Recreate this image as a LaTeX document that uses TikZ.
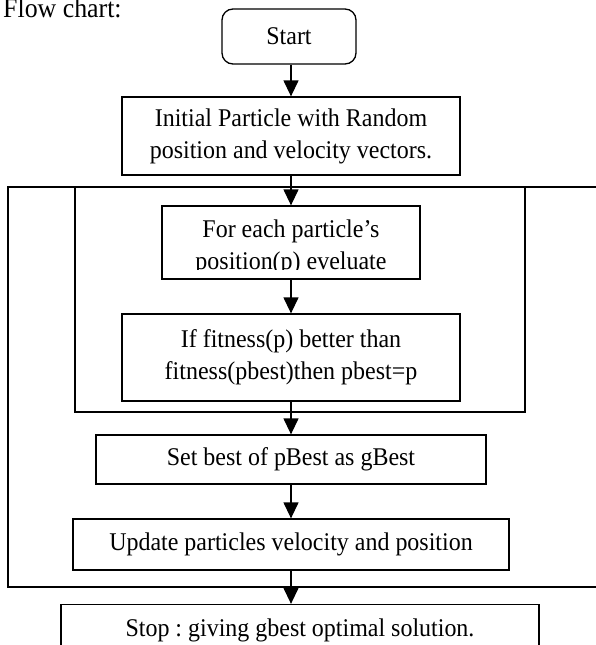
\documentclass[tikz,border=0pt]{standalone}
\usepackage{fontspec}
\setmainfont{Liberation Serif}[FakeStretch=0.94]
\usetikzlibrary{arrows.meta}
\frenchspacing

\newcommand{\flowfont}{\fontsize{25.5}{32}\selectfont}
\tikzset{
  flowbox/.style={draw, line width=1.3pt, inner sep=0pt, align=center, font=\flowfont},
  flowarrow/.style={line width=1.3pt, -{Triangle[length=16pt,width=15pt]}},
  loopline/.style={line width=1.3pt},
}

\begin{document}
\begin{tikzpicture}[x=1pt, y=1pt]
    \useasboundingbox (0,0) rectangle (595,-645);

    % Title
    \node[anchor=base west, inner sep=0pt, font=\fontsize{27.5}{32}\selectfont] (title) at (3,-17) {Flow chart:};

    % Loops
    \draw[loopline] (605,-187) -- (8,-187) -- (8,-587) -- (605,-587);
    \draw[loopline] (75,-187) rectangle (525,-412);

    % Boxes
    \node[flowbox, rounded corners=11pt, minimum width=134pt, minimum height=55pt] (start) at (289,-36.5) {Start};
    \node[flowbox, minimum width=338pt, minimum height=78pt] (init) at (291,-136) {Initial Particle with Random\\position and velocity vectors.};
    \node[flowbox, minimum width=258pt, minimum height=73pt] (each) at (291,-242.5) {};
    \begin{scope}
        \clip (each.north west) rectangle ([yshift=10pt]each.south east);
        \node[align=center, inner sep=0pt, font=\flowfont] (eachtext) at (291,-247.5) {For each particle's\\position(p) eveluate};
    \end{scope}
    \node[flowbox, minimum width=338pt, minimum height=87pt] (better) at (291,-357.5) {If fitness(p) better than\\fitness(pbest)then pbest=p};
    \node[flowbox, minimum width=390pt, minimum height=49pt] (gbest) at (291,-459.5) {Set best of pBest as gBest};
    \node[flowbox, minimum width=436pt, minimum height=51pt] (update) at (291,-544.5) {Update particles velocity and position};
    \node[flowbox, minimum width=478pt, minimum height=52pt] (stop) at (300,-630.5) {Stop : giving gbest optimal solution.};

    % Arrows
    \draw[flowarrow] (start.south -| init) -- (init);
    \draw[flowarrow] (init) -- (each);
    \draw[flowarrow] (each) -- (better);
    \draw[flowarrow] (better) -- (gbest);
    \draw[flowarrow] (gbest) -- (update);
    \draw[flowarrow] (update.south) -- (update.south |- stop.north);

\end{tikzpicture}
\end{document}
